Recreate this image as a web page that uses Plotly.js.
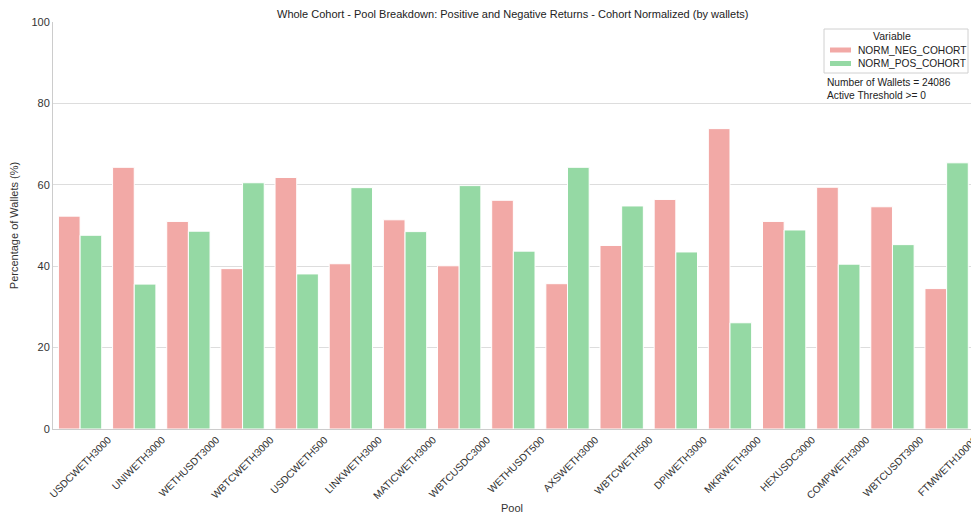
<!DOCTYPE html>
<html>
<head>
<meta charset="utf-8">
<script src="https://cdn.plot.ly/plotly-3.0.1.min.js"></script>
<style>html,body{margin:0;padding:0;background:#fff;}#chart{width:971px;height:519px;}</style>
</head>
<body>
<div id="chart"></div>
<script>
const pools = ["USDCWETH3000","UNIWETH3000","WETHUSDT3000","WBTCWETH3000","USDCWETH500","LINKWETH3000","MATICWETH3000","WBTCUSDC3000","WETHUSDT500","AXSWETH3000","WBTCWETH500","DPIWETH3000","MKRWETH3000","HEXUSDC3000","COMPWETH3000","WBTCUSDT3000","FTMWETH10000"];
const normNeg = [52.3, 64.3, 51.0, 39.4, 61.8, 40.6, 51.4, 40.1, 56.2, 35.7, 45.1, 56.4, 73.8, 51.0, 59.4, 54.6, 34.5];
const normPos = [47.6, 35.6, 48.6, 60.5, 38.1, 59.3, 48.5, 59.8, 43.7, 64.3, 54.8, 43.5, 26.1, 48.9, 40.5, 45.3, 65.4];
const seriesNames = ["NORM_NEG_COHORT","NORM_POS_COHORT"];
const seriesColors = ["#F2A9A6","#95D9A4"];
const legendTitle = "Variable";
const walletCount = 24086;
const activeThreshold = 0;

const font = "Liberation Sans, Arial, sans-serif";
const M = {l:53, r:0, t:22, b:90}, W = 971, H = 519;
const pw = W - M.l - M.r, ph = H - M.t - M.b;
const px = x => (x - M.l) / pw;          // pixel -> paper x
const py = y => (H - M.b - y) / ph;      // pixel -> paper y

const traces = seriesNames.map((n, i) => ({
  type:"bar", name:n, x:pools, y:[normNeg, normPos][i], showlegend:false,
  marker:{color:seriesColors[i], line:{color:"#ffffff", width:1}}
}));

const shapes = [
  {type:"rect", xref:"paper", yref:"paper", x0:px(824), x1:px(968), y0:py(29), y1:py(73), fillcolor:"#ffffff", line:{color:"#d0d0d0", width:1}, layer:"above"}
];
const annotations = [
  {xref:"paper", yref:"paper", x:px(892), y:py(36), xanchor:"center", yanchor:"middle", showarrow:false, text:legendTitle, font:{size:10.5, color:"#222"}}
];
seriesNames.forEach((n, i) => {
  const yc = [50, 63.5][i];
  shapes.push({type:"rect", xref:"paper", yref:"paper", x0:px(830), x1:px(851), y0:py(yc+2.5), y1:py(yc-2.5), fillcolor:seriesColors[i], line:{width:0}, layer:"above"});
  annotations.push({xref:"paper", yref:"paper", x:px(856), y:py(yc), xanchor:"left", yanchor:"middle", showarrow:false, text:n, font:{size:10.2, color:"#222"}});
});
annotations.push(
  {xref:"paper", yref:"paper", x:px(825), y:py(89), xanchor:"left", yanchor:"middle", align:"left", showarrow:false,
   text:"Number of Wallets = " + walletCount + "<br>Active Threshold >= " + activeThreshold, font:{size:10.2, color:"#222"}}
);

const layout = {
  width:W, height:H, margin:M,
  paper_bgcolor:"#fff", plot_bgcolor:"#fff",
  font:{family:font, size:11, color:"#333"},
  barmode:"group", bargap:0.2, bargroupgap:0, showlegend:false,
  title:{text:"Whole Cohort - Pool Breakdown: Positive and Negative Returns - Cohort Normalized (by wallets)", font:{size:11, color:"#222"}, x:0.528, xanchor:"center", yref:"container", y:1 - 14/H, yanchor:"middle"},
  xaxis:{range:[-0.5,16.45], tickangle:-45, ticklabelshift:28, showgrid:false, showline:true, linecolor:"#cccccc", linewidth:1, ticks:"", tickfont:{size:10.2, color:"#333"},
         title:{text:"Pool", font:{size:11, color:"#333"}, standoff:4}},
  yaxis:{range:[0,100], tickvals:[0,20,40,60,80,100], showgrid:true, gridcolor:"#dddddd", gridwidth:1, showline:true, linecolor:"#cccccc", zeroline:false, ticks:"", tickfont:{size:11, color:"#333"},
         title:{text:"Percentage of Wallets (%)", font:{size:11, color:"#333"}, standoff:10}},
  shapes:shapes, annotations:annotations
};
Plotly.newPlot("chart", traces, layout, {displayModeBar:false, staticPlot:true});
</script>
</body>
</html>
